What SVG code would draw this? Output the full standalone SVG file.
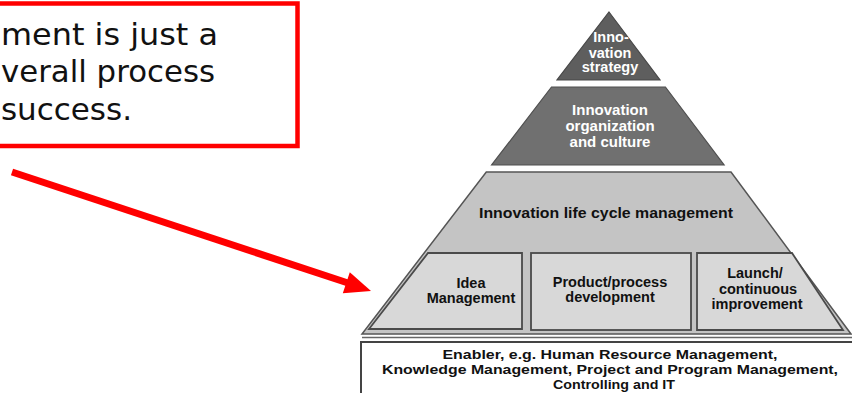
<svg xmlns="http://www.w3.org/2000/svg" width="852" height="393" viewBox="0 0 852 393">
<defs>
<style>
.callout{fill:#fff;stroke:#ff0000;stroke-width:4.5}
.ct{font-family:"DejaVu Sans","Verdana",sans-serif;font-size:31px;fill:#111}
.pw{font-family:"Liberation Sans",Arial,sans-serif;font-weight:bold;fill:#fff;text-anchor:middle}
.pb{font-family:"Liberation Sans",Arial,sans-serif;font-weight:bold;fill:#111;text-anchor:middle}
.t1{fill:#5e5e5e;stroke:#474747;stroke-width:1.2}
.t2{fill:#707070;stroke:#4f4f4f;stroke-width:1.2}
.t3{fill:#c4c4c4;stroke:#555;stroke-width:1.5}
.box{fill:#d8d8d8;stroke:#4a4a4a;stroke-width:1.8}
.base{fill:#fff;stroke:#444;stroke-width:2}
</style>
</defs>
<g id="callout">
<rect class="callout" x="-10" y="3.5" width="307.5" height="142.5"/>
<text class="ct" x="1" y="45" textLength="217" lengthAdjust="spacingAndGlyphs">ment is just a</text>
<text class="ct" x="1" y="82" textLength="214" lengthAdjust="spacingAndGlyphs">verall process</text>
<text class="ct" x="132" y="120" text-anchor="end">success.</text>
</g>
<g id="connectors">
<line x1="12" y1="172" x2="348" y2="283" stroke="#ff0000" stroke-width="7"/>
<polygon points="371,291 349.8,272.3 342.8,293.3" fill="#ff0000"/>
</g>
<g id="tier-strategy">
<polygon class="t1" points="609,12 660,80 557,80"/>
<text class="pw" font-size="14.5" x="611" y="42">Inno-</text>
<text class="pw" font-size="14.5" x="610" y="57.5">vation</text>
<text class="pw" font-size="14.5" x="610" y="72">strategy</text>
</g>
<g id="tier-organization">
<polygon class="t2" points="551.5,87 665.4,87 724.1,165 491.6,165"/>
<text class="pw" font-size="15" x="610" y="115">Innovation</text>
<text class="pw" font-size="15" x="610" y="131">organization</text>
<text class="pw" font-size="15" x="610" y="147">and culture</text>
</g>
<g id="tier-lifecycle">
<polygon class="t3" points="486.3,172 731,172 851,334 362,334"/>
<line x1="362" y1="337.5" x2="852" y2="337.5" stroke="#666" stroke-width="1.5"/>
<text class="pb" font-size="15.5" x="606" y="218" textLength="254" lengthAdjust="spacingAndGlyphs">Innovation life cycle management</text>
</g>
<g id="idea-management">
<polygon class="box" points="428,253 522,253 522,329 369,329"/>
<text class="pb" font-size="14.5" x="471" y="288">Idea</text>
<text class="pb" font-size="14.5" x="471" y="303">Management</text>
</g>
<g id="product-development">
<rect class="box" x="531" y="253" width="160" height="77"/>
<text class="pb" font-size="14.5" x="610" y="287">Product/process</text>
<text class="pb" font-size="14.5" x="610" y="302">development</text>
</g>
<g id="launch">
<polygon class="box" points="697,253 792,253 843,330 697,330"/>
<text class="pb" font-size="14.5" x="755" y="278">Launch/</text>
<text class="pb" font-size="14.5" x="758" y="294">continuous</text>
<text class="pb" font-size="14.5" x="757" y="309">improvement</text>
</g>
<g id="enabler">
<rect class="base" x="361" y="342" width="500" height="60"/>
<text class="pb" font-size="13" x="610" y="359" textLength="335" lengthAdjust="spacingAndGlyphs">Enabler, e.g. Human Resource Management,</text>
<text class="pb" font-size="13" x="610" y="374" textLength="456" lengthAdjust="spacingAndGlyphs">Knowledge Management, Project and Program Management,</text>
<text class="pb" font-size="13" x="614" y="389" textLength="122" lengthAdjust="spacingAndGlyphs">Controlling and IT</text>
</g>
</svg>
